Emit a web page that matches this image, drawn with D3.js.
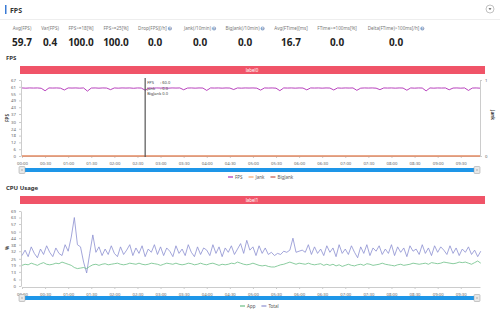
<!DOCTYPE html>
<html><head><meta charset="utf-8">
<script src="https://cdn.jsdelivr.net/npm/d3@7"></script>
<style>body{margin:0;background:#fff;font-family:"Noto Sans","Open Sans",sans-serif}</style>
</head><body><svg id="c" width="500" height="322"></svg>
<script>
const statLabels = ["Avg(FPS)","Var(FPS)","FPS>=18[%]","FPS>=25[%]","Drop(FPS)[/h]","Jank(/10min)","BigJank(/10min)","Avg(FTime)[ms]","FTime>=100ms[%]","Delta(FTime)>100ms[/h]"];
const statValues = ["59.7","0.4","100.0","100.0","0.0","0.0","0.0","16.7","0.0","0.0"];
const statInfo = [false,false,false,false,true,true,true,false,false,true];

const fpsTickLabels = [0,6,12,18,24,30,37,43,49,55,61,67];
const cpuTickLabels = [0,6,13,19,25,32,38,44,50,57,63,69];
const jankTickLabels = [0,1];
const timeTicks = [0,30,60,90,120,150,180,210,240,270,300,330,360,390,420,450,480,510,540,570];

const fpsValues = [
60,59.8,60,59.9,60,59.7,57.5,60,59.9,60,
59.8,58.2,60,59.9,60,59.8,60,57.2,59.9,60,
59.8,60,59.9,58.5,60,59.8,60,59.9,60,59.7,
60,59.9,58,60,59.8,60,59.9,60,59.8,60,
59.9,60,58.4,59.9,60,59.8,60,59.9,57.8,60,
59.9,60,59.8,60,59.9,58.6,60,59.8,60,59.9,
60,59.8,58.1,60,59.9,60,59.8,57.6,60,59.9,
60,59.8,60,59.9,58.3,60,59.9,60,59.8,60,
59.9,58.2,60,59.8,60,59.9,60,57.9,59.8,60,
59.9,60,59.8,58.5,60,59.9,60,59.8,60,59.9,
58,60,59.8,60,59.9,57.4,60,59.8,60,59.9,
60,58.4,59.9,60,59.8,60,57.8,59.9,60,59.8];
const jankTimes = [0,595];
const jankValues = [0,0];
const bigJankValues = [0,0];

const cpuTotal = [
28,33,27,36,30,26,34,29,37,31,
27,35,30,28,38,32,45,63,38,36,
22,12,30,47,31,36,28,34,29,37,
30,27,36,29,33,38,28,35,30,37,
27,34,31,38,29,36,28,35,32,27,
37,30,34,28,38,31,27,36,29,35,
33,28,38,30,36,27,35,31,37,29,
34,39,30,42,33,36,28,37,30,35,
29,31,28,30,29,32,31,33,44,31,
32,33,31,38,29,36,30,34,28,37,
31,35,27,38,30,34,29,37,31,26,
36,30,38,28,35,32,37,29,34,30,
38,28,36,31,35,27,37,32,34,29,
38,30,35,28,37,31,36,33,29,37,
30,35,28,34,31,36,29,33,27,32];
const cpuApp = [
19,20,19.5,21,20,19,20.5,21.5,20,19.5,
20,21,20.5,22,21,20,19,17,16,16.5,
17,16,18,19.5,20,19,20,20.5,19.5,20,
20.5,21,20,19.5,20,21,20.5,20,21,20,
19.5,20,21,20.5,20,19,20,21,20.5,20,
21,20,19.5,20,21,20.5,19.5,20,21,20,
19.5,20.5,21,20,19,20,19.5,20,21,20.5,
22,21,20,19.5,20,21,20,19,18.5,19,
18,17.5,17.5,18.5,19.5,20,21,22,21,20,
21,20.5,20,21,20,19.5,20,20.5,19,20,
19,20,18.5,19.5,18,19,20,19,18.5,19.5,
20,19,20.5,20,19,19.5,20,21,20,19.5,
19,18.5,19.5,20,19,19.5,20,21,20.5,20,
20.5,21,20,21.5,21,20.5,21,22,21.5,21,
20.5,21,22,21.5,22,21,20,21.5,23,21];
const crosshairTime = 160;

const svg = d3.select("#c");
const F = '"Noto Sans","Open Sans",sans-serif';

// header
svg.append("rect").attr("x",5).attr("y",5).attr("width",1.5).attr("height",9).attr("fill","#3a7bd5");
svg.append("text").attr("x",10).attr("y",13).text("FPS").attr("font-size",7).attr("font-weight","bold").attr("fill","#333").attr("font-family",F);
svg.append("line").attr("x1",0).attr("x2",500).attr("y1",19.5).attr("y2",19.5).attr("stroke","#eee");
const ic = svg.append("g").attr("transform","translate(490,9)");
ic.append("circle").attr("r",4).attr("fill","#fff").attr("stroke","#999").attr("stroke-width",0.6);
ic.append("path").attr("d","M-1.5,-0.7L0,1L1.5,-0.7Z").attr("fill","#555");

const statX = [22,50,81,116,155,200,245,291,337,396];
statLabels.forEach((l,i)=>{
  const t = svg.append("text").attr("x",statX[i] - (statInfo[i]?2.5:0)).attr("y",30).attr("text-anchor","middle")
    .attr("font-size",4.6).attr("fill","#777").attr("font-family",F).text(l);
  if(statInfo[i]){
    const w = t.node().getComputedTextLength();
    const cx = statX[i]-2.5 + w/2 + 3;
    svg.append("circle").attr("cx",cx).attr("cy",28.5).attr("r",2).attr("fill","#8aa4c8");
    svg.append("text").attr("x",cx).attr("y",29.9).attr("text-anchor","middle").attr("font-size",3).attr("fill","#fff").attr("font-weight","bold").text("?");
  }
  svg.append("text").attr("x",statX[i]).attr("y",46).attr("text-anchor","middle")
    .attr("font-size",10).attr("font-weight","bold").attr("fill","#222").attr("font-family",F).text(statValues[i]);
});

function section(title, ty, barY, label){
  svg.append("text").attr("x",6).attr("y",ty).text(title).attr("font-size",6).attr("font-weight","bold").attr("fill","#333").attr("font-family",F);
  svg.append("rect").attr("x",20).attr("y",barY).attr("width",465).attr("height",8).attr("fill","#f05468");
  svg.append("text").attr("x",252).attr("y",barY+5.6).attr("text-anchor","middle").attr("font-size",4.5).attr("fill","#fff").attr("font-family",F).text(label);
}
section("FPS",60,66,"label0");
section("CPU Usage",190,196,"label1");

const x = d3.scaleLinear().domain([0,595]).range([22,480]);
const fmt = s => String(Math.floor(s/60)).padStart(2,"0")+":"+String(s%60).padStart(2,"0");

function xAxis(y){
  const g = svg.append("g").attr("transform",`translate(0,${y})`)
    .call(d3.axisBottom(x).tickValues(timeTicks).tickFormat(fmt).tickSize(2).tickSizeOuter(0));
  g.select(".domain").attr("stroke","#ccc");
  g.selectAll(".tick line").attr("stroke","#ccc");
  g.selectAll("text").attr("font-size",4.3).attr("fill","#666").attr("font-family",F).attr("dy","0.9em");
}
function yAxis(scale, ticks){
  const g = svg.append("g").attr("transform","translate(21,0)")
    .call(d3.axisLeft(scale).tickValues(ticks).tickSize(2).tickSizeOuter(0));
  g.select(".domain").attr("stroke","#ccc");
  g.selectAll(".tick line").attr("stroke","#ccc");
  g.selectAll("text").attr("font-size",4.3).attr("fill","#666").attr("font-family",F);
}
function slider(y){
  svg.append("rect").attr("x",22).attr("y",y).attr("width",456).attr("height",4).attr("fill","#1e96e8");
  [22,477].forEach(hx=>{
    svg.append("rect").attr("x",hx-3).attr("y",y-1.5).attr("width",6).attr("height",7).attr("rx",1).attr("fill","#e8e8e8").attr("stroke","#999").attr("stroke-width",0.5);
    svg.append("line").attr("x1",hx-1).attr("x2",hx+1).attr("y1",y+2).attr("y2",y+2).attr("stroke","#777").attr("stroke-width",0.5);
  });
}
function legend(items, cx, y){
  let xx = cx;
  const g = svg.append("g");
  items.forEach(it=>{
    g.append("line").attr("x1",xx).attr("x2",xx+5).attr("y1",y).attr("y2",y).attr("stroke",it.c).attr("stroke-width",1.2);
    const t = g.append("text").attr("x",xx+7).attr("y",y+1.5).attr("font-size",4.5).attr("fill","#555").attr("font-family",F).text(it.n);
    xx += 7 + t.node().getComputedTextLength() + 6;
  });
}

// FPS chart
const yF = d3.scaleLinear().domain([0,67]).range([156,80]);
const yJ = d3.scaleLinear().domain([0,1]).range([156,80]);
yAxis(yF, fpsTickLabels);
xAxis(156);
const rg = svg.append("g").attr("transform","translate(480,0)").call(d3.axisRight(yJ).tickValues(jankTickLabels).tickFormat(d3.format("d")).tickSize(2).tickSizeOuter(0));
rg.select(".domain").attr("stroke","#ccc");
rg.selectAll(".tick line").attr("stroke","#ccc");
rg.selectAll("text").attr("font-size",4.3).attr("fill","#666").attr("font-family",F);
svg.append("text").attr("transform","translate(9,118) rotate(-90)").attr("text-anchor","middle").attr("font-size",4.5).attr("font-weight","bold").attr("fill","#444").text("FPS");
svg.append("text").attr("transform","translate(491,115) rotate(90)").attr("text-anchor","middle").attr("font-size",4.5).attr("font-weight","bold").attr("fill","#444").text("Jank");

const lineF = d3.line().x((d,i)=>x(i*5)).y(d=>yF(d));
svg.append("path").datum(fpsValues).attr("d",lineF).attr("fill","none").attr("stroke","#b02eb6").attr("stroke-width",0.9);
const lineJ = d3.line().x((d,i)=>x(jankTimes[i])).y(d=>yJ(d));
svg.append("path").datum(bigJankValues).attr("d",lineJ).attr("fill","none").attr("stroke","#c4564c").attr("stroke-width",1);
svg.append("path").datum(jankValues).attr("d",lineJ).attr("fill","none").attr("stroke","#f2a46e").attr("stroke-width",1);

// crosshair + tooltip
const cx0 = x(crosshairTime);
svg.append("line").attr("x1",cx0).attr("x2",cx0).attr("y1",78).attr("y2",157).attr("stroke","#555").attr("stroke-width",1.2);
[["FPS","  : 60.0"],["Jank","  : 0.0"],["BigJank",": 0.0"]].forEach((r,i)=>{
  svg.append("text").attr("x",cx0+2).attr("y",84+i*5.5).attr("font-size",4).attr("fill","#444").attr("font-family",F).text(r[0]);
  svg.append("text").attr("x",cx0+15).attr("y",84+i*5.5).attr("font-size",4).attr("fill","#444").attr("font-family",F).text(r[1]);
});
slider(168);
legend([{n:"FPS",c:"#b02eb6"},{n:"Jank",c:"#f2a46e"},{n:"BigJank",c:"#c4564c"}],228,177);

// CPU chart
const yC = d3.scaleLinear().domain([0,69]).range([286,211]);
yAxis(yC, cpuTickLabels);
xAxis(287);
svg.append("text").attr("transform","translate(9,248) rotate(-90)").attr("text-anchor","middle").attr("font-size",4.5).attr("font-weight","bold").attr("fill","#444").text("%");
const lineC = d3.line().x((d,i)=>x(i*4)).y(d=>yC(d));
svg.append("path").datum(cpuTotal).attr("d",lineC).attr("fill","none").attr("stroke","#8c8fd0").attr("stroke-width",0.8);
svg.append("path").datum(cpuApp).attr("d",lineC).attr("fill","none").attr("stroke","#6cbf86").attr("stroke-width",0.8);
slider(296);
legend([{n:"App",c:"#6cbf86"},{n:"Total",c:"#8c8fd0"}],240,306);
</script></body></html>
